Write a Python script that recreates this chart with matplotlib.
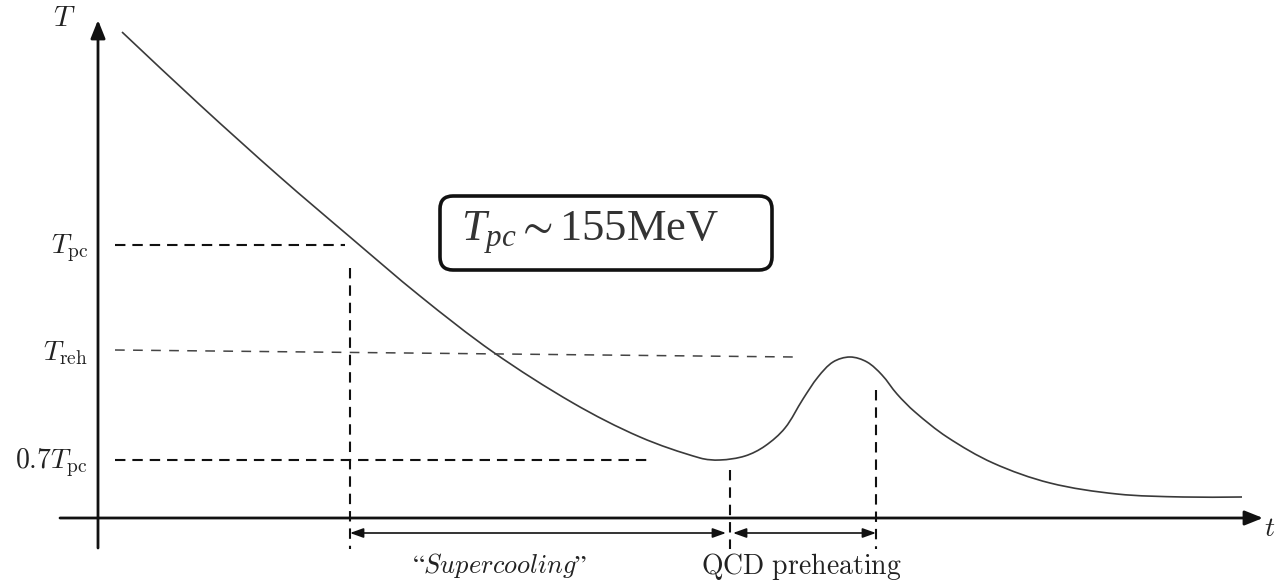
import matplotlib
matplotlib.use("Agg")
import matplotlib.pyplot as plt
from matplotlib.patches import FancyBboxPatch, PathPatch
from matplotlib.path import Path

plt.rcParams['lines.scale_dashes'] = False
plt.rcParams['mathtext.fontset'] = 'custom'
plt.rcParams['mathtext.rm'] = 'Liberation Serif'
plt.rcParams['mathtext.it'] = 'Liberation Serif:italic'
plt.rcParams['mathtext.fallback'] = 'stix'

# ---- data (pixel-read schematic, x to the right, y downward from top) ----
curve_x = [122, 200, 280, 350, 420, 493, 573, 640, 700, 720, 745, 765, 785, 803, 818, 833,
           850, 867, 882, 897, 915, 947, 993, 1050, 1117, 1183, 1242]
curve_y = [32, 105, 177, 237, 296, 352, 403, 437, 458, 460, 456, 446, 428, 399, 377, 362,
           357, 362, 375, 394, 412, 437, 463, 483, 494, 497, 497]

# reference levels (y positions) and their labels
level_y = [245, 350, 460]
level_labels = [r'$T_{\rm pc}$', r'$T_{\rm reh}$', r'$0.7T_{\rm pc}$']
level_x_end = [345, 795, 650]
treh_y_right = 357

# vertical markers: x, top
vmark_x = [350, 730, 876]
vmark_top = [268, 470, 390]

# interval labels
interval_edges = [(350, 726), (733, 876)]
interval_labels = [r'$“\mathit{Supercooling}”$', r'$\mathrm{QCD\ preheating}$']
interval_label_x = [500, 801]

box_text = r'$T_{pc}{\sim}\mathrm{155MeV}$'

W, H = 1276, 582
fig = plt.figure(figsize=(W / 100, H / 100), dpi=100)
ax = fig.add_axes([0, 0, 1, 1])
ax.set_xlim(0, W)
ax.set_ylim(H, 0)
ax.axis('off')

black = '#111111'
# axes with arrows
arrow_kw = dict(arrowstyle='-|>,head_length=0.55,head_width=0.22', lw=2.0, color=black,
                shrinkA=0, shrinkB=0, mutation_scale=20)
ax.annotate('', xy=(98, 20), xytext=(98, 548), arrowprops=arrow_kw)
ax.annotate('', xy=(1263, 518), xytext=(60, 518), arrowprops=arrow_kw)

# main curve: smooth cubic Bezier path (chord-length tangents) through the read points
pts = list(zip(curve_x, curve_y))
n = len(pts)
seg = [((pts[i + 1][0] - pts[i][0]) ** 2 + (pts[i + 1][1] - pts[i][1]) ** 2) ** 0.5
       for i in range(n - 1)]
tang = []
for i in range(n):
    if i == 0:
        a, b, d = pts[0], pts[1], seg[0]
    elif i == n - 1:
        a, b, d = pts[-2], pts[-1], seg[-1]
    else:
        a, b, d = pts[i - 1], pts[i + 1], seg[i - 1] + seg[i]
    tang.append(((b[0] - a[0]) / d, (b[1] - a[1]) / d))
verts = [pts[0]]
codes = [Path.MOVETO]
for i in range(n - 1):
    h = seg[i] / 3
    c1 = (pts[i][0] + tang[i][0] * h, pts[i][1] + tang[i][1] * h)
    c2 = (pts[i + 1][0] - tang[i + 1][0] * h, pts[i + 1][1] - tang[i + 1][1] * h)
    verts += [c1, c2, pts[i + 1]]
    codes += [Path.CURVE4] * 3
ax.add_patch(PathPatch(Path(verts, codes), fc='none', ec='#3a3a3a', lw=1.2))

# horizontal dashed levels
ax.plot([115, level_x_end[0]], [level_y[0]] * 2, color=black, lw=1.5, dashes=(7.5, 5))
ax.plot([115, level_x_end[1]], [level_y[1], treh_y_right], color='#444444', lw=1.1, dashes=(7, 6))
ax.plot([115, level_x_end[2]], [level_y[2]] * 2, color=black, lw=1.5, dashes=(7.5, 5))

# vertical dashed markers
for x, top in zip(vmark_x, vmark_top):
    ax.plot([x, x], [top, 549], color=black, lw=1.5, dashes=(7.5, 5))

# interval arrows
for (a, b) in interval_edges:
    ax.annotate('', xy=(b, 533), xytext=(a, 533),
                arrowprops=dict(arrowstyle='<|-|>,head_length=0.5,head_width=0.18', lw=1.2,
                                color=black, shrinkA=0, shrinkB=0, mutation_scale=16))

# labels (Computer Modern)
cm = dict(math_fontfamily='cm', color='#222222')
ax.text(64, 18, r'$T$', fontsize=21, ha='center', va='center', **cm)
ax.text(1270, 528, r'$t$', fontsize=20, ha='center', va='center', **cm)
for y, lab in zip(level_y, level_labels):
    ax.text(88, y + 3, lab, fontsize=20, ha='right', va='center', **cm)
ax.text(interval_label_x[0], 566, interval_labels[0], fontsize=19, ha='center', va='center', **cm)
ax.text(interval_label_x[1], 566, interval_labels[1], fontsize=20, ha='center', va='center', **cm)

# box
box = FancyBboxPatch((440, 196), 332, 74, boxstyle='round,pad=0,rounding_size=13',
                     fc='white', ec=black, lw=2.6)
ax.add_patch(box)
ax.text(590, 233, box_text, fontsize=32, ha='center', va='center',
        color='#333333', math_fontfamily='custom')

fig.savefig('out.png', dpi=100)
